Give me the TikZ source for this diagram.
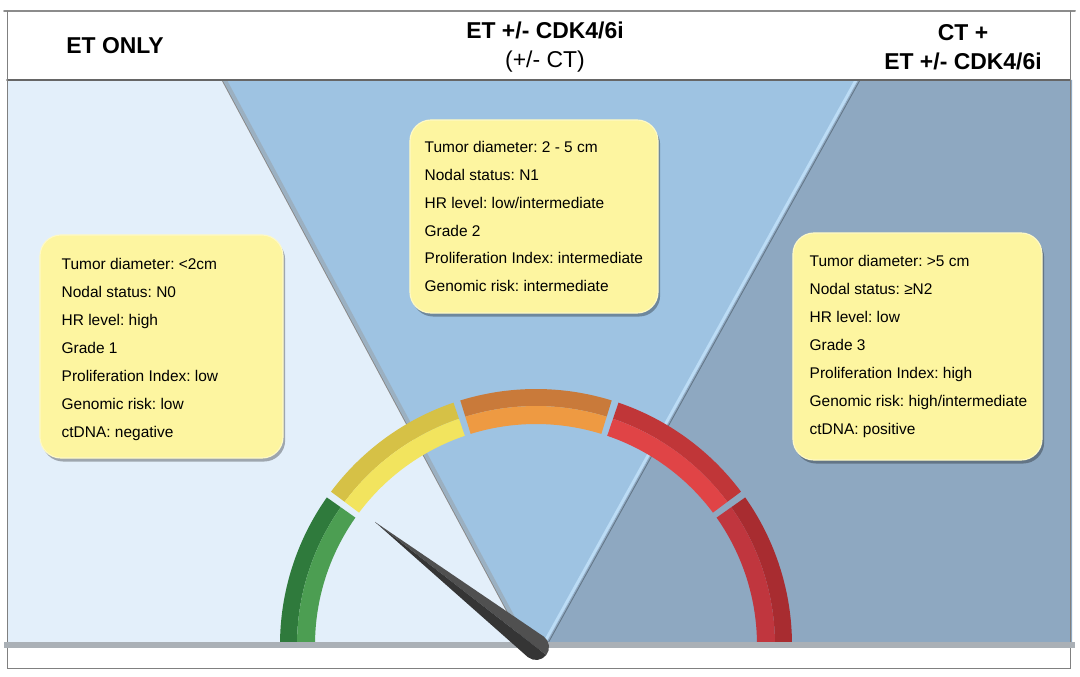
\documentclass[tikz,border=0pt]{standalone}
\usepackage{fontspec}
\setmainfont{Liberation Sans}
\usepackage{tikz}
\usetikzlibrary{shadows}
\definecolor{paleblue}{HTML}{E3EFFA}
\definecolor{midblue}{HTML}{9EC3E2}
\definecolor{duskblue}{HTML}{8EA8C1}
\definecolor{rimblue}{HTML}{BCDCF5}
\definecolor{bandgray}{HTML}{AAB0B6}
\definecolor{boxyellow}{HTML}{FDF5A0}
\definecolor{greendark}{HTML}{2F7A3C}
\definecolor{greenlite}{HTML}{4C9E52}
\definecolor{yellowdark}{HTML}{D6C146}
\definecolor{yellowlite}{HTML}{F2E45E}
\definecolor{orangedark}{HTML}{C97A3A}
\definecolor{orangelite}{HTML}{EE9A42}
\definecolor{reddark}{HTML}{C03638}
\definecolor{redlite}{HTML}{E04446}
\definecolor{crimsondark}{HTML}{A82C30}
\definecolor{crimsonlite}{HTML}{C0363E}
\definecolor{needlehi}{HTML}{505050}
\definecolor{needlelo}{HTML}{353535}
\frenchspacing

\begin{document}
\begin{tikzpicture}[x=0.025cm,y=0.025cm,line cap=round,
  headtxt/.style={font=\fontsize{16.3}{20.6}\selectfont\bfseries,align=center},
  infobox/.style={fill=boxyellow,draw=boxyellow!60!white,line width=0.8pt,rounded corners=15pt,inner sep=0pt,
    drop shadow={shadow xshift=1.5pt,shadow yshift=-2.5pt,opacity=0.3,fill=black}},
  boxtext/.style={font=\fontsize{11}{19.9}\selectfont,align=left,inner sep=0pt,anchor=west}]
\useasboundingbox (0,0) rectangle (1080,677);
\fill[white] (0,0) rectangle (1080,677);
\fill[paleblue] (7,32) -- (7,597) -- (222,597) -- (525,32) -- cycle;
\fill[midblue] (222,597) -- (858,597) -- (545,32) -- (525,32) -- cycle;
\fill[duskblue] (858,597) -- (1072,597) -- (1072,32) -- (545,32) -- cycle;
\draw[black!40,line width=2.5pt,opacity=0.45] (225,597) -- (528,32);
\draw[black!45,line width=0.7pt] (222,597) -- (525,32);
\draw[rimblue,line width=2pt] (856,597) -- (543,32);
\draw[black!30!duskblue,line width=0.6pt] (860,597) -- (547,32);
\fill[white] (7,597) rectangle (1070,665);
\draw[black!45,line width=1.4pt] (4,666) -- (1075,666);
\draw[black!60,line width=1.2pt] (7,597) -- (1070,597);
\draw[black!50,line width=0.6pt] (7,666) -- (7,9) -- (1070,9) -- (1070,666);
\begin{scope}[shift={(536,32)}]
\fill[greendark] (180:256) arc[start angle=180,end angle=144.8,radius=256] -- (144.8:239) arc[start angle=144.8,end angle=180,radius=239] -- cycle;
\fill[greenlite] (180:239) arc[start angle=180,end angle=144.8,radius=239] -- (144.8:221) arc[start angle=144.8,end angle=180,radius=221] -- cycle;
\fill[yellowdark] (143.2:256) arc[start angle=143.2,end angle=108.8,radius=256] -- (108.8:239) arc[start angle=108.8,end angle=143.2,radius=239] -- cycle;
\fill[yellowlite] (143.2:239) arc[start angle=143.2,end angle=108.8,radius=239] -- (108.8:221) arc[start angle=108.8,end angle=143.2,radius=221] -- cycle;
\fill[orangedark] (107.2:256) arc[start angle=107.2,end angle=72.8,radius=256] -- (72.8:239) arc[start angle=72.8,end angle=107.2,radius=239] -- cycle;
\fill[orangelite] (107.2:239) arc[start angle=107.2,end angle=72.8,radius=239] -- (72.8:221) arc[start angle=72.8,end angle=107.2,radius=221] -- cycle;
\fill[reddark] (71.2:256) arc[start angle=71.2,end angle=36.8,radius=256] -- (36.8:239) arc[start angle=36.8,end angle=71.2,radius=239] -- cycle;
\fill[redlite] (71.2:239) arc[start angle=71.2,end angle=36.8,radius=239] -- (36.8:221) arc[start angle=36.8,end angle=71.2,radius=221] -- cycle;
\fill[crimsondark] (35.2:256) arc[start angle=35.2,end angle=0,radius=256] -- (0:239) arc[start angle=0,end angle=35.2,radius=239] -- cycle;
\fill[crimsonlite] (35.2:239) arc[start angle=35.2,end angle=0,radius=239] -- (0:221) arc[start angle=0,end angle=35.2,radius=221] -- cycle;
\end{scope}
\fill[bandgray] (4,29) rectangle (1075,35);
\coordinate (tip) at (375,155);
\coordinate (pivot) at (536,30);
\fill[needlehi] (tip) -- ([shift={(52:13)}]pivot) arc[start angle=52,end angle=-38,radius=13] -- cycle;
\fill[needlelo] (tip) -- ([shift={(-38:13)}]pivot) arc[start angle=-38,end angle=-128,radius=13] -- cycle;
\node[headtxt] (etonly) at (115,631) {ET ONLY};
\node[headtxt] (etcdk) at (545,630) {ET +/- CDK4/6i\\{\mdseries(+/- CT)}};
\node[headtxt] (ctet) at (963,630) {CT +\\ET +/- CDK4/6i};
\node[infobox,minimum width=6.075cm,minimum height=5.575cm] (lowbox) at (161.5,330.5) {};
\node[boxtext] (lowtext) at ([xshift=0.55cm,yshift=-0.07cm]lowbox.west) {Tumor diameter: <2cm\\Nodal status: N0\\HR level: high\\Grade 1\\Proliferation Index: low\\Genomic risk: low\\ctDNA: negative};
\node[infobox,minimum width=6.2cm,minimum height=4.825cm] (midbox) at (534,460.5) {};
\node[boxtext] (midtext) at ([xshift=0.375cm]midbox.west) {Tumor diameter: 2 - 5 cm\\Nodal status: N1\\HR level: low/intermediate\\Grade 2\\Proliferation Index: intermediate\\Genomic risk: intermediate};
\node[infobox,minimum width=6.225cm,minimum height=5.675cm] (highbox) at (917.5,330.5) {};
\node[boxtext] (hightext) at ([xshift=0.425cm]highbox.west) {Tumor diameter: >5 cm\\Nodal status: ≥N2\\HR level: low\\Grade 3\\Proliferation Index: high\\Genomic risk: high/intermediate\\ctDNA: positive};
\end{tikzpicture}
\end{document}
